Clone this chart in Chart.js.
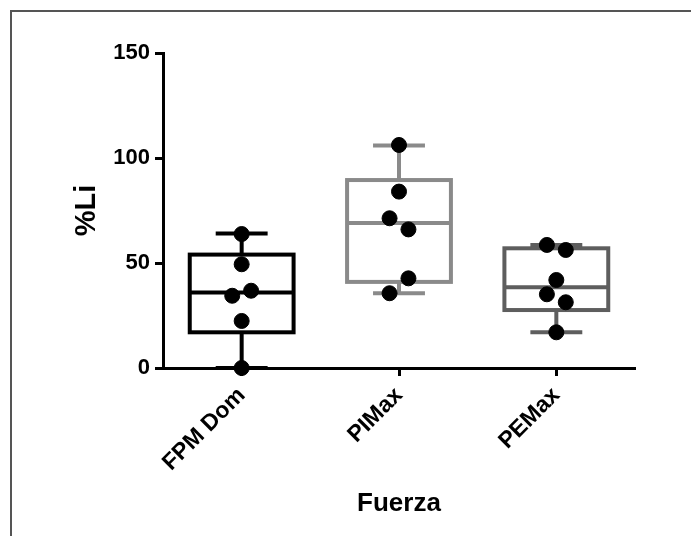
<!DOCTYPE html>
<html>
<head>
<meta charset="utf-8">
<script src="https://cdn.jsdelivr.net/npm/chart.js@4.4.1/dist/chart.umd.min.js"></script>
<style>
  body { margin: 0; background: #fff; }
  #wrap { position: relative; width: 691px; height: 536px; }
  #frame {
    position: absolute; left: 10px; top: 10px; right: 0; bottom: 0;
    border-top: 2px solid #555; border-left: 2px solid #555;
    pointer-events: none;
  }
</style>
</head>
<body>
<div id="wrap">
  <canvas id="boxChart" width="691" height="536"></canvas>
  <div id="frame"></div>
</div>
<script>
// grupos y resumen de cada caja (min, Q1, mediana, Q3, max)
const categories = ["FPM Dom", "PIMax", "PEMax"];
const boxMin = [0, 35.6, 17];
const boxQ1 = [17, 41, 27.6];
const boxMedian = [36, 69, 38.5];
const boxQ3 = [54, 89.5, 57];
const boxMax = [64, 106, 58.6];

// valores individuales de cada grupo
const fpmDomValues = [63.8, 49.4, 34.4, 36.8, 22.4, 0];
const piMaxValues = [106.2, 84, 71.3, 66, 42.7, 35.6];
const peMaxValues = [58.6, 56.2, 41.9, 35.1, 31.3, 17];
const groupValues = [fpmDomValues, piMaxValues, peMaxValues];

// desplazamiento horizontal de los puntos (para que no se tapen)
const fpmDomJitter = [0, 0, -0.06, 0.06, 0, 0];
const piMaxJitter = [0, 0, -0.06, 0.06, 0.06, -0.06];
const peMaxJitter = [-0.06, 0.06, 0, -0.06, 0.06, 0];
const groupJitter = [fpmDomJitter, piMaxJitter, peMaxJitter];

const yTicks = [0, 50, 100, 150];

const boxColors = ["#000000", "#8a8a8a", "#5e5e5e"];
const BOX_HALF = 0.33;
const CAP_HALF = 0.165;

const points = [];
groupValues.forEach((vals, g) => {
    vals.forEach((v, i) => {
        points.push({ x: g + 1 + groupJitter[g][i], y: v });
    });
});

// dibuja las cajas y bigotes usando las escalas del grafico
const boxPlugin = {
    id: "boxPlugin",
    beforeDatasetsDraw(chart) {
        const ctx = chart.ctx;
        const xs = chart.scales.x;
        const ys = chart.scales.y;
        ctx.save();
        categories.forEach((cat, g) => {
            const cx = xs.getPixelForValue(g + 1);
            const l = xs.getPixelForValue(g + 1 - BOX_HALF);
            const r = xs.getPixelForValue(g + 1 + BOX_HALF);
            const cl = xs.getPixelForValue(g + 1 - CAP_HALF);
            const cr = xs.getPixelForValue(g + 1 + CAP_HALF);
            const yMin = ys.getPixelForValue(boxMin[g]);
            const yQ1 = ys.getPixelForValue(boxQ1[g]);
            const yMed = ys.getPixelForValue(boxMedian[g]);
            const yQ3 = ys.getPixelForValue(boxQ3[g]);
            const yMax = ys.getPixelForValue(boxMax[g]);
            ctx.strokeStyle = boxColors[g];
            ctx.lineWidth = 4;
            ctx.lineCap = "butt";
            ctx.beginPath();
            // bigotes
            ctx.moveTo(cx, yQ3); ctx.lineTo(cx, yMax);
            ctx.moveTo(cl, yMax); ctx.lineTo(cr, yMax);
            ctx.moveTo(cx, yQ1); ctx.lineTo(cx, yMin);
            ctx.moveTo(cl, yMin); ctx.lineTo(cr, yMin);
            // mediana
            ctx.moveTo(l, yMed); ctx.lineTo(r, yMed);
            ctx.stroke();
            ctx.strokeRect(l, yQ3, r - l, yQ1 - yQ3);
        });
        ctx.restore();
    },
};

document.addEventListener("DOMContentLoaded", function () {
    const ctx = document.getElementById("boxChart").getContext("2d");
    new Chart(ctx, {
        type: "scatter",
        data: {
            datasets: [
                {
                    label: "Valores",
                    data: points,
                    backgroundColor: "#000",
                    borderColor: "#000",
                    pointRadius: 7.5,
                    pointHoverRadius: 7.5,
                    clip: false,
                },
            ],
        },
        options: {
            responsive: false,
            animation: false,
            layout: {
                padding: { left: 70, right: 56, top: 53, bottom: 17 },
            },
            plugins: {
                legend: { display: false },
                tooltip: { enabled: false },
            },
            scales: {
                x: {
                    type: "linear",
                    min: 0.5,
                    max: 3.5,
                    afterFit: (scale) => { scale.height = 151; },
                    afterBuildTicks: (scale) => {
                        scale.ticks = categories.map((c, i) => ({ value: i + 1 }));
                    },
                    grid: {
                        drawOnChartArea: false,
                        tickLength: 8,
                        tickWidth: 3,
                        tickColor: "#000",
                    },
                    border: { display: true, width: 3, color: "#000" },
                    ticks: {
                        minRotation: 45,
                        maxRotation: 45,
                        padding: 6,
                        color: "#000",
                        font: { family: "Liberation Sans", size: 23, weight: "bold" },
                        callback: (v) => categories[Math.round(v) - 1],
                    },
                    title: {
                        display: true,
                        text: "Fuerza",
                        color: "#000",
                        padding: 0,
                        font: { family: "Liberation Sans", size: 26, weight: "bold", lineHeight: 1.2 },
                    },
                },
                y: {
                    min: 0,
                    max: 150,
                    afterFit: (scale) => { scale.width = 93; },
                    afterBuildTicks: (scale) => {
                        scale.ticks = yTicks.map((v) => ({ value: v }));
                    },
                    grid: {
                        drawOnChartArea: false,
                        tickLength: 8,
                        tickWidth: 3,
                        tickColor: "#000",
                    },
                    border: { display: true, width: 3, color: "#000" },
                    ticks: {
                        padding: 5,
                        color: "#000",
                        font: { family: "Liberation Sans", size: 22, weight: "bold" },
                    },
                    title: {
                        display: true,
                        text: "%Li",
                        color: "#000",
                        padding: 0,
                        font: { family: "Liberation Sans", size: 29, weight: "bold", lineHeight: 1.2 },
                    },
                },
            },
        },
        plugins: [boxPlugin],
    });
});
</script>
</body>
</html>
